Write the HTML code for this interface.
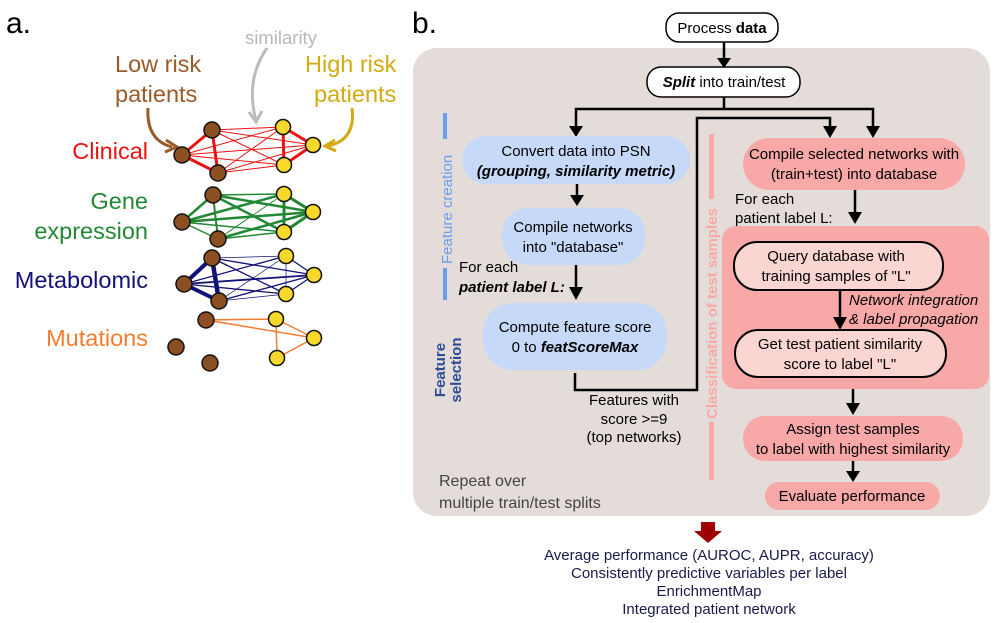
<!DOCTYPE html>
<html><head><meta charset="utf-8"><style>
html,body{margin:0;padding:0;background:#fff;}
svg{display:block;font-family:"Liberation Sans",Arial,sans-serif;}
</style></head><body>
<svg width="1000" height="623" viewBox="0 0 1000 623" xmlns="http://www.w3.org/2000/svg">
<!-- Panel a -->
<text x="6" y="33" font-size="30" fill="#000">a.</text>
<text x="115" y="72" font-size="23.5" fill="#9a5a2a">Low risk</text>
<text x="115" y="102" font-size="23.5" fill="#9a5a2a">patients</text>
<text x="245" y="44" font-size="18.5" fill="#b8b8b8">similarity</text>
<text x="305" y="72" font-size="23.5" fill="#d4aa10">High risk</text>
<text x="314" y="102" font-size="23.5" fill="#d4aa10">patients</text>
<path d="M148,108 Q146,140 172,147" fill="none" stroke="#9a5a2a" stroke-width="3"/>
<path d="M166,140 L177,147 L165,152" fill="none" stroke="#9a5a2a" stroke-width="3"/>
<path d="M267,48 Q245,80 256,120" fill="none" stroke="#bbb" stroke-width="3"/>
<path d="M249,112 L256,122 L262,111" fill="none" stroke="#bbb" stroke-width="3"/>
<path d="M352,108 Q356,140 328,146" fill="none" stroke="#d4aa10" stroke-width="3"/>
<path d="M335,140 L325,146 L336,151" fill="none" stroke="#d4aa10" stroke-width="3"/>
<text x="148" y="159" font-size="23.5" fill="#ee1111" text-anchor="end">Clinical</text>
<text x="148" y="209" font-size="23.5" fill="#228833" text-anchor="end">Gene</text>
<text x="148" y="239" font-size="23.5" fill="#228833" text-anchor="end">expression</text>
<text x="148" y="288" font-size="23.5" fill="#111177" text-anchor="end">Metabolomic</text>
<text x="148" y="346" font-size="23.5" fill="#f47c30" text-anchor="end">Mutations</text>
<g stroke="#ee1111" stroke-width="1">
<line x1="212" y1="130" x2="283" y2="127"/><line x1="212" y1="130" x2="313" y2="145"/><line x1="212" y1="130" x2="284" y2="165"/>
<line x1="182" y1="155" x2="283" y2="127"/><line x1="182" y1="155" x2="313" y2="145"/><line x1="182" y1="155" x2="284" y2="165"/>
<line x1="218" y1="173" x2="283" y2="127"/><line x1="218" y1="173" x2="313" y2="145"/><line x1="218" y1="173" x2="284" y2="165"/>
<line x1="212" y1="130" x2="182" y2="155" stroke-width="3"/><line x1="212" y1="130" x2="218" y2="173" stroke-width="3"/><line x1="182" y1="155" x2="218" y2="173" stroke-width="3"/>
<line x1="283" y1="127" x2="313" y2="145" stroke-width="3"/><line x1="283" y1="127" x2="284" y2="165" stroke-width="3"/><line x1="313" y1="145" x2="284" y2="165" stroke-width="3"/>
</g>
<g stroke="#228833" stroke-width="1.5">
<line x1="213" y1="195" x2="284" y2="194"/><line x1="213" y1="195" x2="313" y2="212" stroke-width="2.5"/><line x1="213" y1="195" x2="284" y2="232" stroke-width="2.5"/>
<line x1="182" y1="222" x2="284" y2="194" stroke-width="2.5"/><line x1="182" y1="222" x2="313" y2="212" stroke-width="2.5"/><line x1="182" y1="222" x2="284" y2="232"/>
<line x1="218" y1="239" x2="284" y2="194" stroke-width="1"/><line x1="218" y1="239" x2="313" y2="212" stroke-width="2.5"/><line x1="218" y1="239" x2="284" y2="232"/>
<line x1="213" y1="195" x2="182" y2="222" stroke-width="2.5"/><line x1="213" y1="195" x2="218" y2="239" stroke-width="2"/><line x1="182" y1="222" x2="218" y2="239"/>
<line x1="284" y1="194" x2="313" y2="212" stroke-width="3"/><line x1="284" y1="194" x2="284" y2="232" stroke-width="3"/><line x1="313" y1="212" x2="284" y2="232" stroke-width="3"/>
</g>
<g stroke="#111177" stroke-width="1.3">
<line x1="212" y1="258" x2="286" y2="256" stroke-width="0.8"/><line x1="212" y1="258" x2="314" y2="275"/><line x1="212" y1="258" x2="286" y2="294"/>
<line x1="184" y1="284" x2="286" y2="256"/><line x1="184" y1="284" x2="314" y2="275" stroke-width="1.8"/><line x1="184" y1="284" x2="286" y2="294"/>
<line x1="219" y1="301" x2="286" y2="256" stroke-width="0.7"/><line x1="219" y1="301" x2="314" y2="275"/><line x1="219" y1="301" x2="286" y2="294" stroke-width="0.7"/>
<line x1="212" y1="258" x2="184" y2="284" stroke-width="4"/><line x1="212" y1="258" x2="219" y2="301" stroke-width="4.5"/><line x1="184" y1="284" x2="219" y2="301" stroke-width="4"/>
<line x1="286" y1="256" x2="314" y2="275"/><line x1="286" y1="256" x2="286" y2="294" stroke-width="0.7"/><line x1="314" y1="275" x2="286" y2="294"/>
</g>
<g stroke="#f47c30" stroke-width="1.5">
<line x1="206" y1="320" x2="276" y2="319"/><line x1="206" y1="320" x2="314" y2="338"/>
<line x1="276" y1="319" x2="314" y2="338"/><line x1="276" y1="319" x2="277" y2="358"/><line x1="314" y1="338" x2="277" y2="358"/>
</g>
<g stroke="#111" stroke-width="1.5" fill="#8b4f22">
<circle cx="212" cy="130" r="8"/><circle cx="182" cy="155" r="8"/><circle cx="218" cy="173" r="8"/>
<circle cx="213" cy="195" r="8"/><circle cx="182" cy="222" r="8"/><circle cx="218" cy="239" r="8"/>
<circle cx="212" cy="258" r="8"/><circle cx="184" cy="284" r="8"/><circle cx="219" cy="301" r="8"/>
<circle cx="206" cy="320" r="8"/><circle cx="176" cy="347" r="8"/><circle cx="210" cy="363" r="8"/>
</g>
<g stroke="#111" stroke-width="1.5" fill="#f8d82a">
<circle cx="283" cy="127" r="7.5"/><circle cx="313" cy="145" r="7.5"/><circle cx="284" cy="165" r="7.5"/>
<circle cx="284" cy="194" r="7.5"/><circle cx="313" cy="212" r="7.5"/><circle cx="284" cy="232" r="7.5"/>
<circle cx="286" cy="256" r="7.5"/><circle cx="314" cy="275" r="7.5"/><circle cx="286" cy="294" r="7.5"/>
<circle cx="276" cy="319" r="7.5"/><circle cx="314" cy="338" r="7.5"/><circle cx="277" cy="358" r="7.5"/>
</g>

<!-- Panel b -->
<text x="412" y="33" font-size="30" fill="#000">b.</text>
<rect x="413" y="48" width="577" height="468" rx="24" fill="#e3dcd9"/>
<rect x="722" y="226" width="267" height="163" rx="14" fill="#f8a9a7"/>

<rect x="666" y="13" width="112" height="29" rx="13" fill="#fff" stroke="#000" stroke-width="1.5"/>
<text x="722" y="33" font-size="15" text-anchor="middle">Process <tspan font-weight="bold">data</tspan></text>
<rect x="647" y="67" width="153" height="30" rx="14" fill="#fff" stroke="#000" stroke-width="1.5"/>
<text x="724" y="87" font-size="15" text-anchor="middle"><tspan font-weight="bold" font-style="italic">Split</tspan> into train/test</text>

<g stroke="#000" stroke-width="2.5" fill="none">
<line x1="724" y1="42" x2="724" y2="60"/>
<line x1="724" y1="97" x2="724" y2="109"/>
<polyline points="576,128 576,109 873,109 873,128"/>
<polyline points="575,373 575,390 697,390 697,118 830,118 830,128"/>
<line x1="577" y1="184" x2="577" y2="196"/>
<line x1="576" y1="265" x2="576" y2="288"/>
<line x1="855" y1="190" x2="855" y2="214"/>
<line x1="840" y1="290" x2="840" y2="318"/>
<line x1="853" y1="389" x2="853" y2="405"/>
<line x1="853" y1="461" x2="853" y2="472"/>
</g>
<g fill="#000">
<path d="M717,58 L731,58 L724,68 Z"/>
<path d="M569,126 L583,126 L576,137 Z"/>
<path d="M866,126 L880,126 L873,138 Z"/>
<path d="M823,126 L837,126 L830,138 Z"/>
<path d="M570,195 L584,195 L577,206 Z"/>
<path d="M569,287 L583,287 L576,300 Z"/>
<path d="M848,212 L862,212 L855,224 Z"/>
<path d="M833,317 L847,317 L840,330 Z"/>
<path d="M846,403 L860,403 L853,415 Z"/>
<path d="M846,471 L860,471 L853,482 Z"/>
</g>

<rect x="462" y="136" width="228" height="48" rx="24" fill="#c6d9f8"/>
<text x="576" y="156" font-size="15" text-anchor="middle">Convert data into PSN</text>
<text x="576" y="176" font-size="15" text-anchor="middle" font-weight="bold" font-style="italic">(grouping, similarity metric)</text>
<rect x="502" y="208" width="143" height="57" rx="26" fill="#c6d9f8"/>
<text x="573" y="232" font-size="15" text-anchor="middle">Compile networks</text>
<text x="573" y="252" font-size="15" text-anchor="middle">into "database"</text>
<text x="459" y="272" font-size="15">For each</text>
<text x="459" y="292" font-size="15" font-weight="bold" font-style="italic">patient label L:</text>
<rect x="483" y="303" width="184" height="67" rx="30" fill="#c6d9f8"/>
<text x="575" y="332" font-size="15" text-anchor="middle">Compute feature score</text>
<text x="575" y="352" font-size="15" text-anchor="middle">0 to <tspan font-weight="bold" font-style="italic">featScoreMax</tspan></text>
<text x="634" y="405" font-size="15" text-anchor="middle">Features with</text>
<text x="634" y="424" font-size="15" text-anchor="middle">score &gt;=9</text>
<text x="634" y="442" font-size="15" text-anchor="middle">(top networks)</text>
<text x="439" y="486" font-size="16" fill="#444">Repeat over</text>
<text x="439" y="508" font-size="16" fill="#444">multiple train/test splits</text>

<rect x="443" y="113" width="4" height="26" fill="#6a9ef0"/>
<text transform="translate(452,264) rotate(-90)" font-size="15" fill="#6a9ef0">Feature creation</text>
<rect x="443" y="268" width="4" height="32" fill="#6a9ef0"/>
<text transform="translate(445,370) rotate(-90)" font-size="15" fill="#2e4c96" font-weight="bold" text-anchor="middle">Feature</text>
<text transform="translate(461,370) rotate(-90)" font-size="15" fill="#2e4c96" font-weight="bold" text-anchor="middle">selection</text>

<rect x="709" y="134" width="5" height="65" fill="#f8a9a7"/>
<text transform="translate(717,419) rotate(-90)" font-size="15" fill="#f8a9a7" font-weight="bold">Classification of test samples</text>
<rect x="709" y="422" width="5" height="58" fill="#f8a9a7"/>

<rect x="743" y="138" width="222" height="52" rx="26" fill="#f8a9a7"/>
<text x="854" y="159" font-size="15" text-anchor="middle">Compile selected networks with</text>
<text x="854" y="179" font-size="15" text-anchor="middle">(train+test) into database</text>
<text x="735" y="204" font-size="15">For each</text>
<text x="735" y="223" font-size="15">patient label L:</text>
<rect x="734" y="242" width="209" height="48" rx="23" fill="#fbd5d2" stroke="#000" stroke-width="2"/>
<text x="836" y="261" font-size="15" text-anchor="middle">Query database with</text>
<text x="836" y="281" font-size="15" text-anchor="middle">training samples of "L"</text>
<text x="849" y="305" font-size="15" font-style="italic">Network integration</text>
<text x="849" y="324" font-size="15" font-style="italic">&amp; label propagation</text>
<rect x="735" y="330" width="211" height="47" rx="23" fill="#fbd5d2" stroke="#000" stroke-width="2"/>
<text x="840" y="349" font-size="15" text-anchor="middle">Get test patient similarity</text>
<text x="840" y="369" font-size="15" text-anchor="middle">score to label "L"</text>
<rect x="743" y="416" width="220" height="45" rx="22" fill="#f8a9a7"/>
<text x="853" y="434" font-size="15" text-anchor="middle">Assign test samples</text>
<text x="853" y="454" font-size="15" text-anchor="middle">to label with highest similarity</text>
<rect x="765" y="482" width="175" height="28" rx="14" fill="#f8a9a7"/>
<text x="852" y="501" font-size="15" text-anchor="middle">Evaluate performance</text>

<path d="M701,522 L715,522 L715,531 L722,531 L708,543 L694,531 L701,531 Z" fill="#a00000"/>
<g font-size="15" fill="#1a1a4a" text-anchor="middle">
<text x="709" y="560">Average performance (AUROC, AUPR, accuracy)</text>
<text x="709" y="578">Consistently predictive variables per label</text>
<text x="709" y="596">EnrichmentMap</text>
<text x="709" y="614">Integrated patient network</text>
</g>
</svg>
</body></html>
